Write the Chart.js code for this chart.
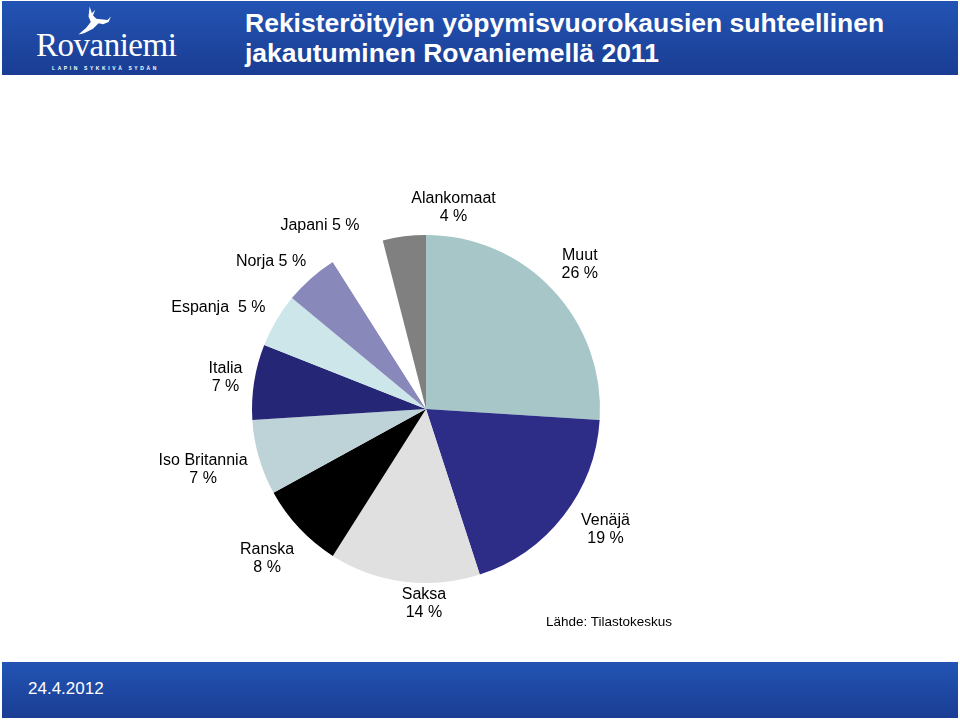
<!DOCTYPE html>
<html lang="fi">
<head>
  <meta charset="UTF-8" />
  <title>Yöpymisvuorokaudet Rovaniemellä 2011</title>
  <style>
    body {
      margin: 0;
      width: 960px;
      height: 720px;
      position: relative;
      background: #fff;
      font-family: "Liberation Sans", Arial, Helvetica, sans-serif;
      overflow: hidden;
    }
    .band {
      position: absolute;
      left: 2px;
      width: 956px;
      background: linear-gradient(to bottom, #2354b4, #1a3d93);
      color: #fff;
    }
    #header { top: 1px; height: 74px; }
    #footer { top: 662px; height: 56px; }
    #title {
      position: absolute;
      left: 243px;
      top: 7px;
      font-weight: bold;
      font-size: 26.5px;
      line-height: 30px;
    }
    #logo {
      position: absolute;
      left: 34px;
      top: 26px;
      font-family: "Liberation Serif", "DejaVu Serif", serif;
      font-size: 33px;
      letter-spacing: -0.5px;
    }
    #tagline {
      position: absolute;
      left: 50px;
      top: 64px;
      font-size: 5px;
      font-weight: bold;
      letter-spacing: 2.6px;
    }
    #deer { position: absolute; left: 72px; top: 5px; }
    #date {
      position: absolute;
      left: 26px;
      top: 17px;
      font-size: 17px;
    }
    #source {
      position: absolute;
      left: 546px;
      top: 614px;
      font-size: 13.5px;
    }
    #wrap {
      position: absolute;
      left: 0;
      top: 76px;
      width: 960px;
      height: 586px;
    }
  </style>
</head>
<body>
  <div class="band" id="header">
    <svg id="deer" width="38" height="30" viewBox="0 0 34 26">
      <path d="M14 0 L16 6 L19 3 L17 8 L20 11 L30 12 L33 9 L31 14 L26 16 L22 15 L17 20 L9 24 L4 25 L11 19 L15 14 L13 9 Z" fill="#fff"/>
    </svg>
    <div id="logo">Rovaniemi</div>
    <div id="tagline">LAPIN SYKKIVÄ SYDÄN</div>
    <div id="title">Rekisteröityjen yöpymisvuorokausien suhteellinen<br>jakautuminen Rovaniemellä 2011</div>
  </div>

  <div id="wrap"><canvas id="chart"></canvas></div>

  <div id="source">Lähde: Tilastokeskus</div>

  <div class="band" id="footer"><div id="date">24.4.2012</div></div>

  <script src="https://cdn.jsdelivr.net/npm/chart.js"></script>
  <script>
    const countries = ['Muut', 'Venäjä', 'Saksa', 'Ranska', 'Iso Britannia', 'Italia', 'Espanja', 'Norja', 'Japani', 'Alankomaat'];
    const shares = [26, 19, 14, 8, 7, 7, 5, 5, 5, 4];
    const colors = ['#a6c6c8', '#2d2d88', '#e0e0e0', '#000000', '#bdd3d8', '#262677', '#cde6ea', '#8888bb', '#ffffff', '#808080'];

    // label placement: px beyond the rim, angle nudge in degrees, one line or two
    const labelDist = [37, 42, 21, 44, 57, 29, 57, 40, 38, 29];
    const labelTurn = [0, -4, -6.6, 0, 1, 0, -4.6, -5, -6.6, 15];
    const oneLine = [false, false, false, false, false, false, true, true, true, false];

    const pieLabels = {
      id: 'pieLabels',
      afterDatasetsDraw(chart) {
        const ctx = chart.ctx;
        const arcs = chart.getDatasetMeta(0).data;
        ctx.save();
        ctx.font = '16px "Liberation Sans", Arial, sans-serif';
        ctx.fillStyle = '#000';
        ctx.textAlign = 'center';
        ctx.textBaseline = 'middle';
        arcs.forEach((arc, i) => {
          const mid = (arc.startAngle + arc.endAngle) / 2 + labelTurn[i] * Math.PI / 180;
          const r = arc.outerRadius + labelDist[i];
          const x = arc.x + Math.cos(mid) * r;
          const y = arc.y + Math.sin(mid) * r;
          const sep = countries[i] === 'Espanja' ? '  ' : ' ';
          if (oneLine[i]) {
            ctx.fillText(countries[i] + sep + shares[i] + ' %', x, y);
          } else {
            ctx.fillText(countries[i], x, y - 9);
            ctx.fillText(shares[i] + ' %', x, y + 9);
          }
        });
        ctx.restore();
      }
    };

    new Chart(document.getElementById('chart'), {
      type: 'pie',
      data: {
        labels: countries,
        datasets: [{
          data: shares,
          backgroundColor: colors,
          borderWidth: 0
        }]
      },
      options: {
        responsive: true,
        maintainAspectRatio: false,
        animation: false,
        layout: { padding: { left: 252, right: 360, top: 159, bottom: 79 } },
        plugins: {
          legend: { display: false },
          tooltip: { enabled: false }
        }
      },
      plugins: [pieLabels]
    });
  </script>
</body>
</html>
